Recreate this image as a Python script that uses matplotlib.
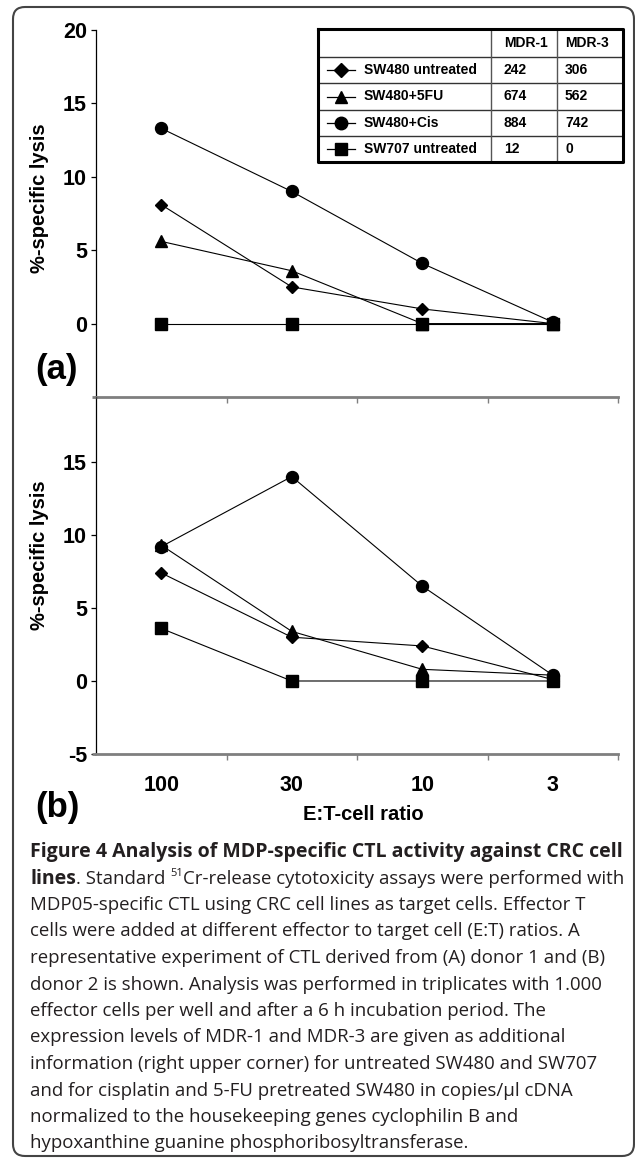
import numpy as np
import matplotlib
matplotlib.use("Agg")
import matplotlib.pyplot as plt
from matplotlib.patches import FancyBboxPatch

plt.rcParams['font.family'] = ['Liberation Sans', 'DejaVu Sans']

ratios = ['100', '30', '10', '3']
cell_lines = ['SW480 untreated', 'SW480+5FU', 'SW480+Cis', 'SW707 untreated']
mdr1 = ['242', '674', '884', '12']
mdr3 = ['306', '562', '742', '0']

# % specific lysis at E:T = 100, 30, 10, 3
lysis_a = [
    [8.1, 2.5, 1.0, 0.0],    # SW480 untreated
    [5.6, 3.6, 0.0, 0.0],    # SW480+5FU
    [13.3, 9.0, 4.1, 0.1],   # SW480+Cis
    [0.0, 0.0, 0.0, 0.0],    # SW707 untreated
]
lysis_b = [
    [7.4, 3.0, 2.4, 0.1],
    [9.3, 3.4, 0.8, 0.4],
    [9.2, 14.0, 6.5, 0.4],
    [3.6, 0.0, 0.0, 0.0],
]

caption = [
    "Figure 4 Analysis of MDP-specific CTL activity against CRC cell",
    None,
    "MDP05-specific CTL using CRC cell lines as target cells. Effector T",
    "cells were added at different effector to target cell (E:T) ratios. A",
    "representative experiment of CTL derived from (A) donor 1 and (B)",
    "donor 2 is shown. Analysis was performed in triplicates with 1.000",
    "effector cells per well and after a 6 h incubation period. The",
    "expression levels of MDR-1 and MDR-3 are given as additional",
    "information (right upper corner) for untreated SW480 and SW707",
    "and for cisplatin and 5-FU pretreated SW480 in copies/\u00b5l cDNA",
    "normalized to the housekeeping genes cyclophilin B and",
    "hypoxanthine guanine phosphoribosyltransferase.",
]

marks = [('D', 6.0), ('^', 8.0), ('o', 8.6), ('s', 8.0)]

W, H = 635, 1159
fig = plt.figure(figsize=(W / 100, H / 100), dpi=100)


def fbox(l, t, r, b):
    return [l / W, 1 - b / H, (r - l) / W, (b - t) / H]


def style_panel(ax, data, ylim, yticks):
    x = np.arange(len(ratios)) + 0.5
    for vals, (m, ms) in zip(data, marks):
        ax.plot(x, vals, color='k', lw=0.8, marker=m, ms=ms, mfc='k', mec='k',
                clip_on=False)
    ax.set_xlim(0, 4)
    ax.set_ylim(*ylim)
    ax.patch.set_alpha(0)
    for s in ('top', 'right'):
        ax.spines[s].set_visible(False)
    ax.spines['left'].set_linewidth(0.9)
    ax.spines['bottom'].set_color('#7f7f7f')
    ax.spines['bottom'].set_linewidth(2)
    ax.set_xticks([1, 2, 3, 4])
    ax.set_xticklabels([])
    ax.tick_params(axis='x', which='major', direction='out', length=4,
                   width=1, color='#7f7f7f')
    ax.set_yticks(yticks, [str(v) for v in yticks], fontsize=15.5,
                  fontweight='bold')
    ax.tick_params(axis='y', length=3.5, width=0.9, pad=3)
    return x


ax_a = fig.add_axes(fbox(96, 30, 618, 397))
style_panel(ax_a, lysis_a, (-5, 20), [0, 5, 10, 15, 20])

ax_b = fig.add_axes(fbox(96, 397, 618, 754))
xb = style_panel(ax_b, lysis_b, (-5, 19.45), [-5, 0, 5, 10, 15])
ax_b.set_xticks(xb, minor=True)
ax_b.set_xticklabels(ratios, minor=True, fontsize=15.5, fontweight='bold')
ax_b.tick_params(axis='x', which='minor', length=0, pad=15)

# overlay in pixel coordinates for labels, table, caption and frame
ov = fig.add_axes([0, 0, 1, 1], zorder=5)
ov.set_xlim(0, W)
ov.set_ylim(H, 0)
ov.axis('off')
ov.patch.set_alpha(0)

ov.add_patch(FancyBboxPatch((13, 7), 621, 1149,
                            boxstyle='round,pad=0,rounding_size=12',
                            ec='#444444', fc='none', lw=1.5, clip_on=False))
# gray axis lines poke out a little left of the y axis
for yy in (397, 754):
    ov.plot([92, 96], [yy, yy], color='#7f7f7f', lw=2, solid_capstyle='butt')

ov.text(40, 198, '%-specific lysis', rotation=90, ha='center', va='center',
        fontsize=14.5, fontweight='bold')
ov.text(40, 555, '%-specific lysis', rotation=90, ha='center', va='center',
        fontsize=14.5, fontweight='bold')
ov.text(363, 815, 'E:T-cell ratio', ha='center', va='center',
        fontsize=14.5, fontweight='bold')
ov.text(35, 370, '(a)', ha='left', va='center', fontsize=25, fontweight='bold')
ov.text(35, 807, '(b)', ha='left', va='center', fontsize=25, fontweight='bold')

# expression table
cols = [318, 491, 557, 623]
rows = [29, 57, 83, 110, 136, 162]
for yy in rows[1:-1]:
    ov.plot([cols[0], cols[-1]], [yy, yy], color='#333333', lw=1)
for xx in cols[1:-1]:
    ov.plot([xx, xx], [rows[0], rows[-1]], color='#555555', lw=1)
ov.plot([cols[0], cols[-1], cols[-1], cols[0], cols[0]],
        [rows[0], rows[0], rows[-1], rows[-1], rows[0]], color='k', lw=2.2)
tkw = dict(fontsize=10, fontweight='bold', va='center', ha='left')
hy = (rows[0] + rows[1]) / 2
ov.text(cols[1] + 13, hy, 'MDR-1', **tkw)
ov.text(cols[2] + 8, hy, 'MDR-3', **tkw)
tmarks = [('D', 7.0), ('^', 9.0), ('o', 9.0), ('s', 8.5)]
for i, name in enumerate(cell_lines):
    cy = (rows[i + 1] + rows[i + 2]) / 2
    m, ms = tmarks[i]
    ov.plot([327, 355], [cy, cy], color='k', lw=0.9)
    ov.plot([341], [cy], marker=m, ms=ms, color='k')
    ov.text(364, cy, name, **tkw)
    ov.text(cols[1] + 13, cy, mdr1[i], **tkw)
    ov.text(cols[2] + 8, cy, mdr3[i], **tkw)

# caption
cap_font = ['Open Sans', 'DejaVu Sans']
ckw = dict(fontsize=13.4, family=cap_font, color='#231f20')
bkw = dict(ckw, fontsize=14.0, fontweight='bold')
y0, dy = 857, 26.5
for i, line in enumerate(caption):
    y = y0 + i * dy
    if i == 0:
        ov.text(30, y, line, va='baseline', **bkw)
    elif line is None:
        t1 = ov.text(30, y, 'lines', va='baseline', **bkw)
        t2 = ov.annotate('. Standard ', xy=(1, 0), xycoords=t1, va='bottom',
                         **ckw)
        t3 = ov.annotate('51', xy=(1, 0.5), xycoords=t2, va='bottom',
                         fontsize=8, family=cap_font, color='#231f20')
        ov.annotate('Cr-release cytotoxicity assays were performed with',
                    xy=(1, 0), xycoords=(t3, t2), va='bottom', **ckw)
    else:
        ov.text(30, y, line, va='baseline', **ckw)

fig.savefig('out.png', dpi=100)
